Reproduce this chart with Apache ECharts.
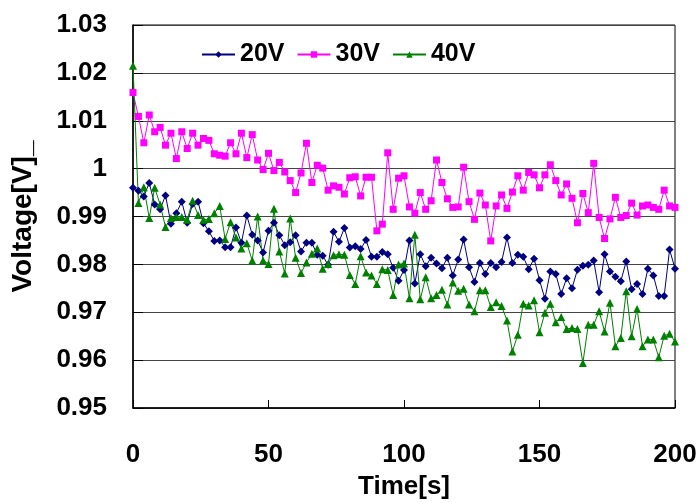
<!DOCTYPE html>
<html>
<head>
<meta charset="utf-8">
<script src="https://cdn.jsdelivr.net/npm/echarts@6/dist/echarts.min.js"></script>
<style>html,body{margin:0;padding:0;background:#fff}#c{width:698px;height:503px}</style>
</head>
<body>
<div id="c"></div>
<script>
const times = [0,2,4,6,8,10,12,14,16,18,20,22,24,26,28,30,32,34,36,38,40,42,44,46,48,50,52,54,56,58,60,62,64,66,68,70,72,74,76,78,80,82,84,86,88,90,92,94,96,98,100,102,104,106,108,110,112,114,116,118,120,122,124,126,128,130,132,134,136,138,140,142,144,146,148,150,152,154,156,158,160,162,164,166,168,170,172,174,176,178,180,182,184,186,188,190,192,194,196,198,200];

const v20 = [0.9960,0.9954,0.9942,0.9970,0.9925,0.9915,0.9944,0.9885,0.9907,0.9931,
0.9887,0.9926,0.9931,0.9886,0.9869,0.9849,0.9850,0.9836,0.9836,0.9877,
0.9845,0.9902,0.9862,0.9850,0.9825,0.9870,0.9887,0.9861,0.9840,0.9846,
0.9861,0.9827,0.9845,0.9845,0.9820,0.9818,0.9799,0.9868,0.9847,0.9876,
0.9835,0.9838,0.9832,0.9851,0.9816,0.9816,0.9826,0.9821,0.9793,0.9766,
0.9788,0.9850,0.9760,0.9821,0.9796,0.9814,0.9802,0.9792,0.9814,0.9777,
0.9810,0.9852,0.9794,0.9763,0.9803,0.9780,0.9803,0.9794,0.9805,0.9856,
0.9803,0.9820,0.9816,0.9790,0.9812,0.9767,0.9728,0.9785,0.9780,0.9738,
0.9771,0.9750,0.9789,0.9797,0.9799,0.9808,0.9742,0.9821,0.9785,0.9774,
0.9765,0.9806,0.9748,0.9759,0.9738,0.9791,0.9777,0.9734,0.9734,0.9831,
0.9791];

const v30 = [1.0159,1.0109,1.0054,1.0112,1.0077,1.0086,1.0049,1.0074,1.0021,1.0077,
1.0042,1.0074,1.0049,1.0063,1.0059,1.0031,1.0028,1.0026,1.0054,1.0031,
1.0074,1.0023,1.0071,1.0018,0.9998,1.0032,0.9996,1.0013,0.9993,0.9975,
0.9950,0.9991,1.0053,0.9971,1.0007,1.0001,0.9955,0.9964,0.9961,0.9947,
0.9981,0.9983,0.9943,0.9982,0.9982,0.9870,0.9884,1.0033,0.9915,0.9980,
0.9985,0.9920,0.9907,0.9950,0.9915,0.9933,1.0018,0.9971,0.9937,0.9919,
0.9920,1.0003,0.9931,0.9894,0.9949,0.9924,0.9849,0.9922,0.9945,0.9917,
0.9951,0.9985,0.9955,0.9992,0.9987,0.9960,0.9987,1.0008,0.9975,0.9945,
0.9968,0.9938,0.9887,0.9948,0.9908,1.0011,0.9898,0.9854,0.9895,0.9940,
0.9898,0.9902,0.9928,0.9903,0.9922,0.9924,0.9919,0.9915,0.9955,0.9922,
0.9919];

const v40 = [1.0215,0.9928,0.9961,0.9897,0.9960,0.9925,0.9878,0.9897,0.9899,0.9899,
0.9893,0.9933,0.9903,0.9893,0.9895,0.9907,0.9922,0.9853,0.9888,0.9856,
0.9833,0.9844,0.9808,0.9900,0.9808,0.9801,0.9916,0.9827,0.9781,0.9896,
0.9814,0.9782,0.9804,0.9822,0.9833,0.9791,0.9801,0.9819,0.9821,0.9820,
0.9778,0.9759,0.9817,0.9783,0.9777,0.9759,0.9790,0.9788,0.9736,0.9800,
0.9802,0.9729,0.9862,0.9727,0.9773,0.9729,0.9736,0.9747,0.9716,0.9762,
0.9745,0.9749,0.9716,0.9702,0.9746,0.9746,0.9711,0.9721,0.9713,0.9683,
0.9618,0.9653,0.9718,0.9714,0.9725,0.9658,0.9699,0.9718,0.9679,0.9690,
0.9665,0.9667,0.9665,0.9594,0.9674,0.9674,0.9702,0.9660,0.9720,0.9629,
0.9646,0.9744,0.9650,0.9707,0.9629,0.9643,0.9643,0.9606,0.9651,0.9655,
0.9639];

const seriesNames = ['20V','30V','40V'];
const xTicks = [0,50,100,150,200];
const yTicks = [0.95,0.96,0.97,0.98,0.99,1.00,1.01,1.02,1.03];

const FONT = '"Liberation Sans", Arial, sans-serif';
const pair = arr => times.map((t,i)=>[t, arr[i]]);

const chart = echarts.init(document.getElementById('c'), null, {renderer:'canvas'});
chart.setOption({
  animation:false,
  backgroundColor:'#fff',
  grid:{left:133, top:25, width:542, height:383, show:true, borderColor:'#000', borderWidth:1,
        backgroundColor:'transparent', containLabel:false, outerBoundsMode:'none'},
  legend:{
    left:196, top:37, itemWidth:33, itemHeight:8, itemGap:12,
    textStyle:{fontFamily:FONT, fontSize:25, fontWeight:'bold', color:'#000'},
    data:seriesNames
  },
  xAxis:{
    type:'value', min:xTicks[0], max:xTicks[xTicks.length-1], interval:50,
    name:'Time[s]', nameLocation:'middle', nameGap:66,
    nameTextStyle:{fontFamily:FONT, fontSize:26, fontWeight:'bold', color:'#000'},
    axisLine:{show:true, lineStyle:{color:'#000', width:1.5}},
    axisTick:{show:true, inside:true, length:8, lineStyle:{color:'#000'}},
    axisLabel:{margin:34, fontFamily:FONT, fontSize:26, fontWeight:'bold', color:'#000'},
    splitLine:{show:false}
  },
  yAxis:{
    type:'value', min:yTicks[0], max:yTicks[yTicks.length-1], interval:0.01,
    name:'Voltage[V]_', nameLocation:'middle', nameGap:96, nameRotate:90,
    nameTextStyle:{fontFamily:FONT, fontSize:28, fontWeight:'bold', color:'#000'},
    axisLine:{show:true, lineStyle:{color:'#000', width:1.5}},
    axisTick:{show:true, inside:true, length:10, lineStyle:{color:'#000'}},
    axisLabel:{margin:26, fontFamily:FONT, fontSize:26, fontWeight:'bold', color:'#000',
      formatter: v => String(+(+v).toFixed(2))},
    splitLine:{show:true, lineStyle:{color:'#444', width:1}}
  },
  series:[
    {name:seriesNames[0], type:'line', data:pair(v20), symbol:'diamond', symbolSize:8,
     itemStyle:{color:'#000080'}, lineStyle:{color:'#000080', width:1}},
    {name:seriesNames[1], type:'line', data:pair(v30), symbol:'rect', symbolSize:7,
     itemStyle:{color:'#FF00FF'}, lineStyle:{color:'#FF00FF', width:1}},
    {name:seriesNames[2], type:'line', data:pair(v40), symbol:'triangle', symbolSize:8,
     itemStyle:{color:'#008000'}, lineStyle:{color:'#008000', width:1}}
  ]
});
</script>
</body>
</html>
